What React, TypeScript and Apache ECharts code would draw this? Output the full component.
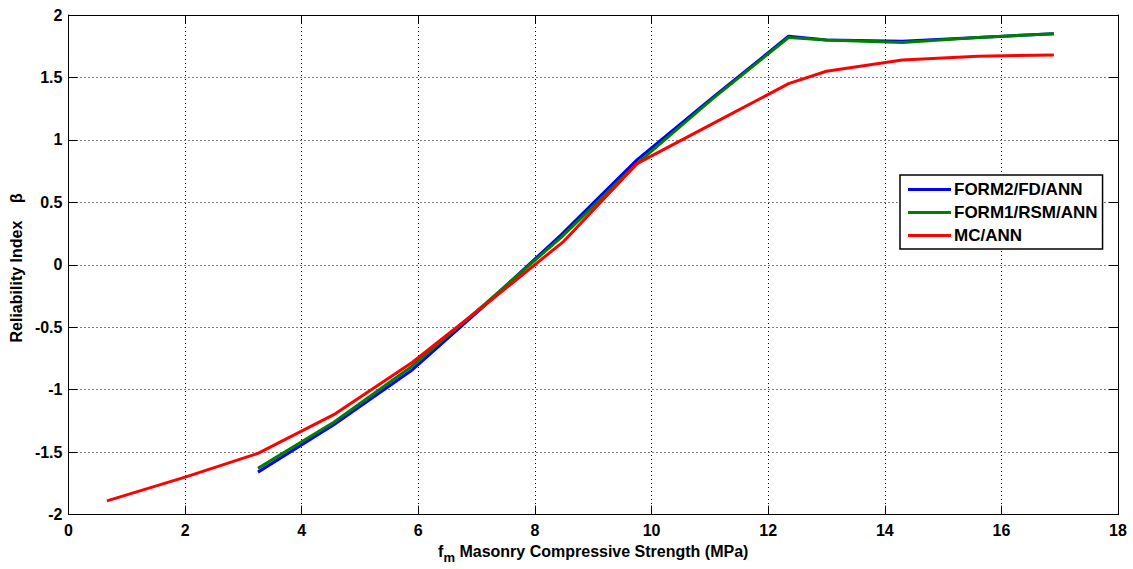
import React, { useEffect, useRef } from "react";
import * as echarts from "echarts";

const xAnn = [3.25, 4.55, 5.9, 7.15, 8.45, 9.75, 11.05, 12.35, 13.0, 14.3, 15.6, 16.9];
const form2 = [-1.66, -1.28, -0.84, -0.32, 0.24, 0.84, 1.34, 1.83, 1.8, 1.79, 1.82, 1.85];
const form1 = [-1.63, -1.26, -0.81, -0.31, 0.22, 0.81, 1.33, 1.82, 1.8, 1.78, 1.82, 1.85];
const xMc = [0.66, 2.0, 3.25, 4.55, 5.9, 7.15, 8.5, 9.75, 11.05, 12.35, 13.0, 14.3, 15.6, 16.9];
const mc = [-1.89, -1.7, -1.51, -1.2, -0.78, -0.32, 0.19, 0.81, 1.13, 1.45, 1.55, 1.64, 1.67, 1.68];
const seriesNames = ["FORM2/FD/ANN", "FORM1/RSM/ANN", "MC/ANN"];

const FONT = "'Liberation Sans', Arial, sans-serif";

export default function App() {
  const ref = useRef<HTMLDivElement>(null);
  useEffect(() => {
    if (!ref.current) return;
    const chart = echarts.init(ref.current, undefined, { renderer: "svg" });
    const pair = (xs: number[], ys: number[]) => xs.map((x, i) => [x, ys[i]]);
    const axisLine = { show: true, onZero: false, lineStyle: { color: "#000", width: 1 } };
    const tick = { show: true, inside: true, length: 9, lineStyle: { color: "#000", width: 1 } };
    const split = { show: true, lineStyle: { color: "#000", width: 1, type: [1, 3] as any } };
    const label = { color: "#000", fontFamily: FONT, fontWeight: "bold" as const, fontSize: 16 };
    chart.setOption({
      animation: false,
      backgroundColor: "#fff",
      grid: { left: 68, top: 15, right: 15, bottom: 46, show: false },
      legend: {
        orient: "vertical",
        left: 900,
        top: 175,
        data: seriesNames,
        icon: "rect",
        itemWidth: 43,
        itemHeight: 3,
        itemGap: 6,
        padding: [6, 5, 5, 8],
        borderColor: "#000",
        borderWidth: 1.5,
        backgroundColor: "#fff",
        textStyle: { color: "#000", fontFamily: FONT, fontWeight: "bold", fontSize: 17, lineHeight: 16, padding: [0, 0, 0, -2] },
      },
      xAxis: [
        {
          type: "value",
          min: 0,
          max: 18,
          interval: 2,
          axisLine,
          axisTick: tick,
          splitLine: split,
          axisLabel: { ...label, margin: 8 },
          name: "{f|f}{m|m} Masonry Compressive Strength (MPa)",
          nameLocation: "middle",
          nameGap: 24,
          nameTextStyle: {
            color: "#000",
            fontFamily: FONT,
            fontWeight: "bold",
            fontSize: 16,
            rich: {
              f: { color: "#000", fontFamily: FONT, fontWeight: "bold", fontSize: 16 },
              m: { color: "#000", fontFamily: FONT, fontWeight: "bold", fontSize: 13, padding: [12, 0, 0, 0] },
            },
          },
        },
        {
          type: "value",
          position: "top",
          min: 0,
          max: 18,
          interval: 2,
          axisLine,
          axisTick: tick,
          splitLine: { show: false },
          axisLabel: { show: false },
        },
      ],
      yAxis: [
        {
          type: "value",
          min: -2,
          max: 2,
          interval: 0.5,
          axisLine,
          axisTick: tick,
          splitLine: split,
          axisLabel: { ...label, margin: 6 },
          name: "Reliability Index    β",
          nameLocation: "middle",
          nameGap: 44,
          nameTextStyle: { color: "#000", fontFamily: FONT, fontWeight: "bold", fontSize: 16, padding: [0, 0, 0, -6] },
        },
        {
          type: "value",
          position: "right",
          min: -2,
          max: 2,
          interval: 0.5,
          axisLine,
          axisTick: tick,
          splitLine: { show: false },
          axisLabel: { show: false },
        },
      ],
      series: [
        { name: seriesNames[0], type: "line", data: pair(xAnn, form2), showSymbol: false, symbol: "none", lineStyle: { color: "#0000ff", width: 3 }, itemStyle: { color: "#0000ff" } },
        { name: seriesNames[1], type: "line", data: pair(xAnn, form1), showSymbol: false, symbol: "none", lineStyle: { color: "#008000", width: 3 }, itemStyle: { color: "#008000" } },
        { name: seriesNames[2], type: "line", data: pair(xMc, mc), showSymbol: false, symbol: "none", lineStyle: { color: "#ff0000", width: 3 }, itemStyle: { color: "#ff0000" } },
      ],
    });
    return () => chart.dispose();
  }, []);
  return <div ref={ref} style={{ position: "absolute", left: 0, top: 0, width: 1133, height: 569 }} />;
}
